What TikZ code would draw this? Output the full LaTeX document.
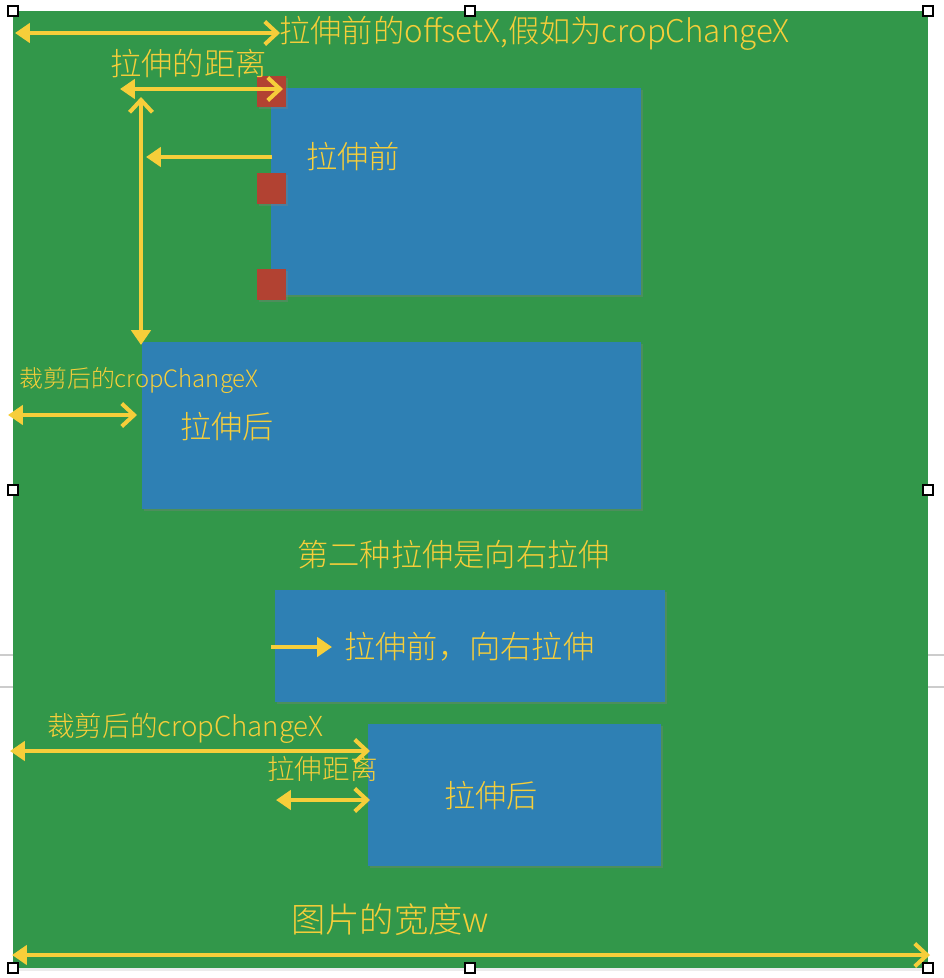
\documentclass[tikz,border=0pt]{standalone}
\usepackage{fontspec}
\newfontfamily\cjk{Noto Sans CJK SC Light}
\usetikzlibrary{arrows.meta,shadows}
\definecolor{felt}{RGB}{50,151,74}
\definecolor{card}{RGB}{46,128,180}
\definecolor{tab}{RGB}{178,66,50}
\definecolor{pen}{RGB}{246,206,58}
\tikzset{
  tri/.tip={Triangle[length=8.5pt,width=11pt]},
  barb/.tip={Straight Barb[length=7pt,width=13pt]},
  yl/.style={draw=pen,line width=2.3pt},
  lbl/.style={text=pen,inner sep=0pt,font=\cjk\fontsize{17.8}{20}\selectfont},
  small/.style={lbl,font=\cjk\fontsize{13.6}{16}\selectfont},
  mid/.style={lbl,font=\cjk\fontsize{15.7}{18}\selectfont},
  cardshadow/.style={drop shadow={opacity=0.35,shadow xshift=1pt,shadow yshift=-1.2pt}},
  handle/.style={draw=black,fill=white,line width=0.6pt}
}
\begin{document}
\begin{tikzpicture}[x=0.02cm,y=-0.02cm]
  \useasboundingbox (0,0) rectangle (944,978);
  \fill[white] (0,0) rectangle (944,978);
  % side rules
  \draw[black!20,line width=1.2pt] (0,655)--(13,655) (0,687)--(13,687);
  \draw[black!20,line width=1.2pt] (928,655)--(944,655) (928,687)--(944,687);
  % the picture
  \fill[felt,drop shadow={opacity=0.15,shadow xshift=0pt,shadow yshift=-1.5pt}] (13,11) rectangle (928,968);

  % first stretch
  \fill[card,cardshadow] (271,88) rectangle (641,295);
  \foreach \y in {76,173,269}
    \fill[tab,cardshadow] (257,\y) rectangle ++(29,31);
  \fill[card,cardshadow] (142,342) rectangle (641,509);

  % second stretch
  \fill[card,cardshadow] (275,590) rectangle (665,702);
  \fill[card,cardshadow] (368,724) rectangle (661,866);

  % labels
  \node[lbl,anchor=west] (offset) at (279,33) {拉伸前的offsetX,假如为cropChangeX};
  \node[lbl,anchor=west] (dist) at (110,64) {拉伸的距离};
  \node[lbl,anchor=west] (before) at (306,157) {拉伸前};
  \node[small,anchor=west] (crop) at (19,380) {裁剪后的cropChangeX};
  \node[lbl,anchor=west] (after) at (180,427) {拉伸后};
  \node[lbl,anchor=west] (second) at (297,555) {第二种拉伸是向右拉伸};
  \node[lbl,anchor=west] (rbefore) at (344,647) {拉伸前，向右拉伸};
  \node[mid,anchor=west] (rcrop) at (47,728) {裁剪后的cropChangeX};
  \node[mid,anchor=west] (rdist) at (267,769) {拉伸距离};
  \node[lbl,anchor=west] (rafter) at (444,796) {拉伸后};
  \node[lbl,anchor=west,font=\cjk\fontsize{19.5}{22}\selectfont] (width) at (291,920) {图片的宽度w};

  % arrow ends
  \coordinate (o1) at (15,33);    \coordinate (o2) at (280,33);
  \coordinate (d1) at (120,89);   \coordinate (d2) at (283,89);
  \coordinate (v1) at (141,97);   \coordinate (v2) at (141,345);
  \coordinate (h1) at (272,157);  \coordinate (h2) at (146,157);
  \coordinate (c1) at (8,415);    \coordinate (c2) at (137,415);
  \coordinate (r1) at (271,647);  \coordinate (r2) at (332,647);
  \coordinate (rc1) at (10,751);  \coordinate (rc2) at (370,751);
  \coordinate (rd1) at (276,800); \coordinate (rd2) at (370,800);
  \coordinate (w1) at (12,955);   \coordinate (w2) at (930,955);

  \draw[yl,{tri}-{barb}] (o1)--(o2);
  \draw[yl,{tri}-{barb}] (d1)--(d2);
  \draw[yl,{barb}-{tri}] (v1)--(v2);
  \draw[yl,-{tri}] (h1)--(h2);
  \draw[yl,{tri}-{barb}] (c1)--(c2);
  \draw[yl,-{tri}] (r1)--(r2);
  \draw[yl,{tri}-{barb}] (rc1)--(rc2);
  \draw[yl,{tri}-{barb}] (rd1)--(rd2);
  \draw[yl,{tri}-{barb}] (w1)--(w2);

  % selection handles
  \foreach \x/\y in {13/11,470/11,928/11,13/490,928/490,13/968,470/968,928/968}
    \draw[handle] (\x-5,\y-5) rectangle (\x+5,\y+5);
\end{tikzpicture}
\end{document}
